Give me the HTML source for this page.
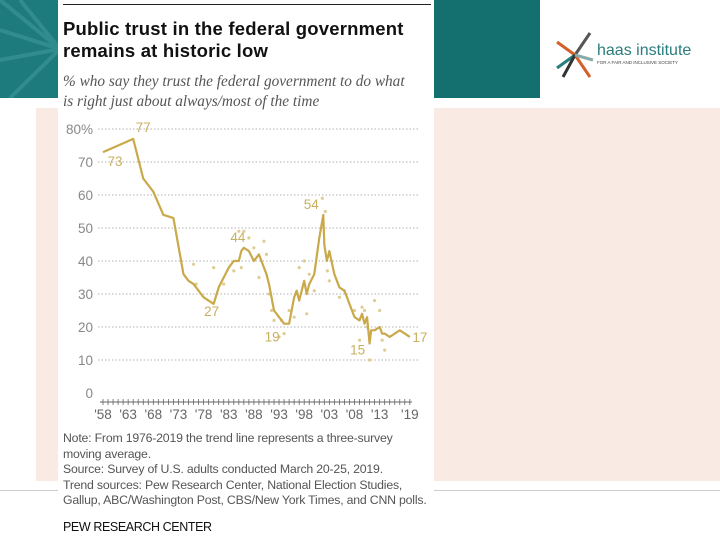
<!DOCTYPE html>
<html><head><meta charset="utf-8"><style>
body{margin:0;width:720px;height:540px;overflow:hidden;background:#fff;font-family:"Liberation Sans",sans-serif;position:relative}
.abs{position:absolute}
</style></head><body>
<div class="abs" style="left:0;top:0;width:60px;height:98px;background:#1e7b7d"></div>
<svg class="abs" style="left:0;top:0" width="60" height="98">
<g stroke="#3a9496" stroke-width="4" opacity="0.7"><line x1="60" y1="49" x2="0" y2="0"/><line x1="60" y1="49" x2="0" y2="30"/><line x1="60" y1="49" x2="0" y2="60"/><line x1="60" y1="49" x2="10" y2="98"/><line x1="60" y1="49" x2="20" y2="0"/></g></svg>
<div class="abs" style="left:433px;top:0;width:107px;height:98px;background:#14706f"></div>
<div class="abs" style="left:36px;top:108px;width:684px;height:373px;background:#f9ebe4"></div>
<div class="abs" style="left:0;top:490px;width:720px;height:1px;background:#ccc"></div>
<div class="abs" style="left:58px;top:0;width:376px;height:540px;background:#fff"></div>
<div class="abs" style="left:63px;top:4px;width:368px;height:1px;background:#222"></div>
<div class="abs" style="left:63px;top:18px;font-size:18.5px;font-weight:bold;line-height:22px;color:#111;letter-spacing:0.2px">Public trust in the federal government<br>remains at historic low</div>
<div class="abs" style="left:63px;top:72px;font-family:'Liberation Serif',serif;font-style:italic;font-size:15.3px;line-height:20px;color:#555">% who say they trust the federal government to do what<br>is right just about always/most of the time</div>
<svg class="abs" style="left:555px;top:30px" width="150" height="50">
<g stroke-width="3"><line x1="20" y1="25" x2="35" y2="3" stroke="#555"/><line x1="20" y1="25" x2="2" y2="12" stroke="#d35f2a"/><line x1="20" y1="25" x2="2" y2="38" stroke="#2a7d7d"/><line x1="20" y1="25" x2="35" y2="47" stroke="#d35f2a"/><line x1="20" y1="25" x2="8" y2="47" stroke="#333"/><line x1="20" y1="25" x2="38" y2="30" stroke="#8aa"/></g>
<text x="42" y="25" font-size="16" fill="#2a7d7d" font-family="Liberation Sans">haas institute</text>
<text x="42" y="34" font-size="4.5" fill="#444" font-family="Liberation Sans">FOR A FAIR AND INCLUSIVE SOCIETY</text></svg>
<svg id="chart" class="abs" style="left:0;top:0" width="720" height="540"></svg>
<div class="abs" style="left:63px;top:431px;font-size:12.3px;line-height:15.5px;color:#555;letter-spacing:-0.2px">Note: From 1976-2019 the trend line represents a three-survey<br>moving average.<br>Source: Survey of U.S. adults conducted March 20-25, 2019.<br>Trend sources: Pew Research Center, National Election Studies,<br>Gallup, ABC/Washington Post, CBS/New York Times, and CNN polls.</div>
<div class="abs" style="left:63px;top:520px;font-size:12.5px;color:#111;letter-spacing:-0.4px">PEW RESEARCH CENTER</div>
<script>
const years=[1958,1964,1966,1968,1970,1972,1974,1975,1976,1977,1978,1980,1981,1983,1984,1985,1985.5,1986,1987,1988,1989,1990,1990.5,1991,1992,1993,1994,1995,1996,1996.5,1997,1998,1998.5,1999,2000,2001,2001.8,2002,2002.5,2003,2004,2005,2006,2007,2008,2009,2009.5,2010,2010.5,2011,2011.3,2012,2013,2013.5,2014,2015,2016,2017,2018,2019];
const trust=[73,77,65,61,54,53,36,34,33,31,29,27,32,38,40,40,43,44,43,40,42,38,36,33,25,23,21,21,29,31,28,34,30,33,36,47,54,45,40,43,36,32,31,27,23,22,24,21,23,15,19,19,20,18,18,17,18,19,18,17];
const dotYears=[1976,1976.5,1980,1982,1984,1985,1985.5,1986,1987,1988,1989,1990,1990.5,1991,1991.5,1992,1993,1993.5,1994,1995,1996,1997,1998,1998.5,1999,2000,2001.6,2002.2,2002.6,2003,2005,2006,2008,2009,2009.5,2010,2010.5,2011,2012,2013,2013.5,2014];
const dotVals=[39,33,38,33,37,49,38,49,47,44,35,46,42,30,25,22,17,22,18,25,23,38,40,24,36,31,59,55,37,34,29,31,25,16,26,25,20,10,28,25,16,13];
const yTicks=[0,10,20,30,40,50,60,70,80];
const xTickLabels=["'58","'63","'68","'73","'78","'83","'88","'93","'98","'03","'08","'13","'19"];
const xTickYears=[1958,1963,1968,1973,1978,1983,1988,1993,1998,2003,2008,2013,2019];
const labelYears=[1958,1964,1980,1986,1994,2001.8,2011,2019];
const labelVals=[73,77,27,44,19,54,15,17];
const NS="http://www.w3.org/2000/svg";
const svg=document.getElementById('chart');
const X=y=>103+(y-1958)*5.03;
const Y=v=>393-v*3.3;
function mk(t,a){const e=document.createElementNS(NS,t);for(const k in a)e.setAttribute(k,a[k]);svg.appendChild(e);return e;}
yTicks.forEach(v=>{
 if(v>0){const l=mk('line',{x1:98,x2:418,y1:Y(v),y2:Y(v),stroke:'#999','stroke-dasharray':'1.5,2','stroke-width':0.8});
 
 }
 const t=mk('text',{x:93,y:Y(v)+5,'text-anchor':'end','font-size':13.5,fill:'#888','font-family':'Liberation Sans'});
 t.textContent=v===80?'80%':String(v);
 
 
});
const ax=mk('line',{x1:100,x2:412,y1:Y(0)+9,y2:Y(0)+9,stroke:'#666','stroke-width':1});


for(let yr=1958;yr<=2019;yr++){const tk=mk('line',{x1:X(yr),x2:X(yr),y1:Y(0)+6,y2:Y(0)+12,stroke:'#666','stroke-width':0.8});

}
xTickYears.forEach((yr,i)=>{const t=mk('text',{x:X(yr),y:Y(0)+26,'text-anchor':'middle','font-size':13.5,fill:'#666','font-family':'Liberation Sans'});
t.textContent=xTickLabels[i];

});
dotYears.forEach((yr,i)=>{const c=mk('circle',{cx:X(yr),cy:Y(dotVals[i]),r:1.6,fill:'#d6c27a',opacity:0.8});

});
const p=mk('polyline',{points:years.map((y,i)=>X(y)+','+Y(trust[i])).join(' '),fill:'none',stroke:'#c9a94a','stroke-width':2.2,'stroke-linejoin':'round'});


const off=[[12,14],[10,-7],[-2,12],[-6,-6],[-12,11],[-12,-6],[-12,11],[10,5]];
labelYears.forEach((yr,i)=>{const t=mk('text',{x:X(yr)+off[i][0],y:Y(labelVals[i])+off[i][1],'text-anchor':'middle','font-size':13.5,fill:'#c9b060','font-family':'Liberation Sans'});
t.textContent=labelVals[i];

});
</script>
</body></html>
